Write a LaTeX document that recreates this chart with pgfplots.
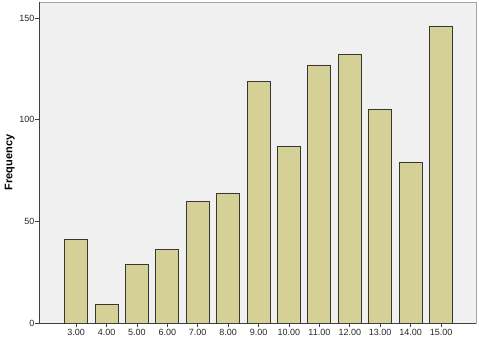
\documentclass[border=0pt]{standalone}
\usepackage{pgfplots}
\pgfplotsset{compat=1.18}
\usepackage{fontspec}
\setmainfont{Liberation Sans}
\definecolor{barfill}{RGB}{212,208,150}
\definecolor{baredge}{RGB}{55,55,55}
\definecolor{bggray}{RGB}{240,240,240}
\begin{document}
\begin{tikzpicture}
\begin{axis}[
  scale only axis,
  width=437pt, height=321pt,
  xmin=1.78, xmax=16.15,
  ymin=0, ymax=158,
  axis x line*=bottom, axis y line*=left,
  axis line style={black!75, line width=0.8pt, -},
  axis background/.style={fill=bggray, draw=gray!70, line width=0.6pt},
  tick align=outside,
  major tick length=4pt,
  tick style={black!75, line width=0.7pt},
  xtick={3,...,15},
  ytick={0,50,100,150},
  /pgf/number format/assume math mode=true,
  xticklabel style={yshift=1.5pt, /pgf/number format/.cd, fixed, fixed zerofill, precision=2},
  ticklabel style={font=\fontsize{9}{10}\selectfont, text=black!85},
  yticklabel style={xshift=3pt},
  ylabel={Frequency},
  ylabel style={font=\fontsize{11}{12}\selectfont\bfseries, yshift=-2pt},
  ybar, bar width=23pt,
]
\addplot[fill=barfill, draw=baredge, line width=0.8pt] coordinates {
(3,41) (4,9) (5,29) (6,36) (7,60) (8,64) (9,119) (10,87) (11,127) (12,132) (13,105) (14,79) (15,146)
};
\end{axis}
\pgfresetboundingbox
\path (current axis.south west) ++(-39pt,-14pt) rectangle ([shift={(3pt,2pt)}]current axis.north east);
\end{tikzpicture}
\end{document}
